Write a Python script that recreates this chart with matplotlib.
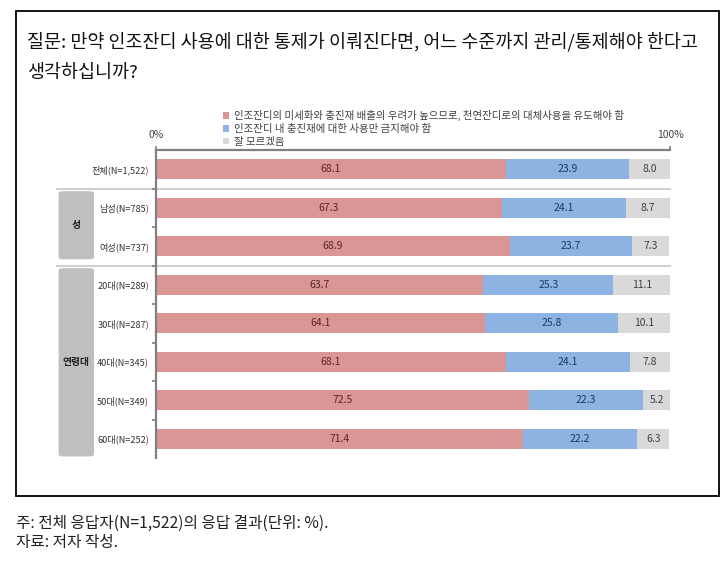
import matplotlib
matplotlib.use("Agg")
import matplotlib.pyplot as plt
from matplotlib.patches import FancyBboxPatch, Rectangle
from matplotlib.transforms import blended_transform_factory

plt.rcParams['font.family'] = ['Noto Sans CJK KR', 'DejaVu Sans']

# data
categories = ['전체(N=1,522)', '남성(N=785)', '여성(N=737)', '20대(N=289)',
              '30대(N=287)', '40대(N=345)', '50대(N=349)', '60대(N=252)']
ban_turf = [68.1, 67.3, 68.9, 63.7, 64.1, 68.1, 72.5, 71.4]
ban_infill = [23.9, 24.1, 23.7, 25.3, 25.8, 24.1, 22.3, 22.2]
dont_know = [8.0, 8.7, 7.3, 11.1, 10.1, 7.8, 5.2, 6.3]
series_names = ['인조잔디의 미세화와 충진재 배출의 우려가 높으므로, 천연잔디로의 대체사용을 유도해야 함',
                '인조잔디 내 충진재에 대한 사용만 금지해야 함',
                '잘 모르겠음']
groups = [('성', 1, 2), ('연령대', 3, 7)]
x_ticks = [0, 100]
x_ticklabels = ['0%', '100%']

bar_colors = ['#d99694', '#8db3e2', '#d9d9d9']
text_colors = ['#5b2525', '#1f3864', '#404040']

fig = plt.figure(figsize=(7.27, 5.65), dpi=100)
ax = fig.add_axes([156 / 727, 1 - 458 / 565, 514 / 727, 308 / 565])

y = list(range(len(categories)))
left = [0] * len(categories)
handles = []
for vals, col, tcol, name in zip([ban_turf, ban_infill, dont_know], bar_colors, text_colors, series_names):
    bars = ax.barh(y, vals, left=left, height=0.52, color=col, label=name)
    handles.append(bars)
    for yi, l, v in zip(y, left, vals):
        ax.text(l + v / 2, yi, f'{v:.1f}', ha='center', va='center', fontsize=7.5, color=tcol)
    left = [a + b for a, b in zip(left, vals)]

ax.set_xlim(0, 100)
ax.set_ylim(len(categories) - 0.5, -0.5)

# axes styling
for s in ['right', 'bottom']:
    ax.spines[s].set_visible(False)
for s in ['top', 'left']:
    ax.spines[s].set_color('#808080')
    ax.spines[s].set_linewidth(1.6)
ax.xaxis.tick_top()
ax.set_xticks(x_ticks)
ax.set_xticklabels(x_ticklabels, fontsize=7.5, color='#404040')
ax.tick_params(axis='x', length=3, width=1.2, color='#808080', pad=4)

ax.set_yticks(y)
ax.set_yticklabels(categories, fontsize=6.6, color='#333333')
ax.tick_params(axis='y', length=0, pad=5)
# small ticks at row boundaries
bounds = [b + 0.5 for b in range(len(categories) - 1)]
ax.set_yticks(bounds, minor=True)
ax.tick_params(axis='y', which='minor', length=3, width=1.2, color='#808080')

# group separators and labels
trans = blended_transform_factory(ax.transAxes, ax.transData)
for name, start, end in groups:
    ax.plot([-0.193, 1.0], [start - 0.5, start - 0.5], transform=trans,
            color='#d0d0d0', lw=1.5, clip_on=False, zorder=0)
    top = start - 0.5 + 0.07
    bot = end + 0.5 - (0.16 if end - start < 2 else 0.04)
    box = FancyBboxPatch((-0.1895, top), 0.069, bot - top,
                         boxstyle='round,pad=0,rounding_size=0.008',
                         transform=trans, facecolor='#bfbfbf', edgecolor='none',
                         clip_on=False, mutation_aspect=8)
    ax.add_patch(box)
    ax.text(-0.155, (top + bot) / 2, name, transform=trans, ha='center', va='center',
            fontsize=7, fontweight='bold', color='#222222')

# legend
fig.legend(handles=handles, loc='upper left', bbox_to_anchor=(218 / 727, 1 - 105 / 565),
           frameon=False, fontsize=7.5, handlelength=0.6, handleheight=0.6,
           handletextpad=0.4, labelspacing=0.25, borderpad=0, labelcolor='#404040')

# title
fig.text(27 / 727, 1 - 42 / 565, '질문: 만약 인조잔디 사용에 대한 통제가 이뤄진다면, 어느 수준까지 관리/통제해야 한다고',
         fontsize=13.3, va='center', ha='left', color='#111111')
fig.text(27 / 727, 1 - 73 / 565, '생각하십니까?', fontsize=13.3, va='center', ha='left', color='#111111')

# outer frame
fig.patches.append(Rectangle((16 / 727, 1 - 496 / 565), 703 / 727, 485 / 565,
                             transform=fig.transFigure, fill=False, edgecolor='black', lw=1.3))

# notes
fig.text(16 / 727, 1 - 523 / 565, '주: 전체 응답자(N=1,522)의 응답 결과(단위: %).',
         fontsize=11.3, va='center', ha='left', color='#222222')
fig.text(16 / 727, 1 - 542 / 565, '자료: 저자 작성.',
         fontsize=11.3, va='center', ha='left', color='#222222')

fig.savefig('out.png', dpi=100)
